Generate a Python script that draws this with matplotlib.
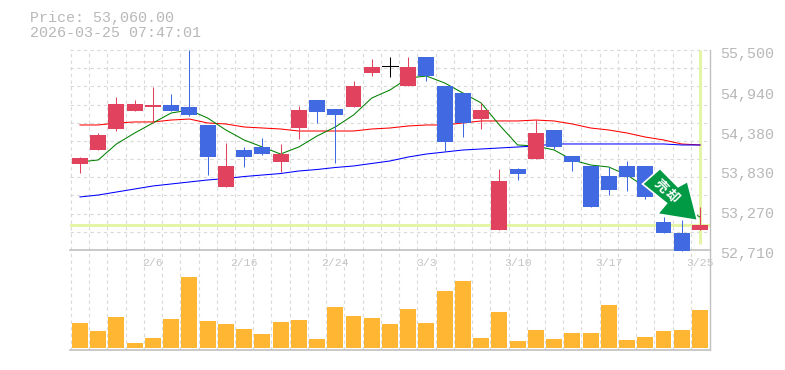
import numpy as np
import matplotlib
matplotlib.use("Agg")
import matplotlib.pyplot as plt
from matplotlib.patches import Polygon
from matplotlib.transforms import ScaledTranslation, Affine2D

W, H = 785, 370
TXT = "#b8b8b8"
MONO = "Liberation Mono"

opens = [53914,54105,54398,54649,54705,54733,54705,54454,53589,54105,54147,53938,54412,54802,54677,54705,55179,55273,54998,55402,54998,54900,54537,52989,53840,53979,54384,54021,53882,53742,53882,53882,53101,52947,52989]
closes = [53993,54314,54747,54747,54733,54649,54593,54007,53882,54007,54049,54049,54663,54635,54593,54998,55263,55273,55263,55137,54217,54482,54663,53673,53770,54342,54147,53938,53310,53547,53728,53449,52947,52695,53060]
highs = [54007,54342,54844,54802,54984,54886,55500,54454,54203,54147,54272,54189,54719,54802,54677,55068,55374,55402,55402,55402,54998,54900,54761,53840,53854,54523,54384,54021,53882,53868,53952,53882,53170,53128,53310]
lows = [53788,54105,54370,54649,54482,54649,54579,53756,53589,53868,54035,53798,54258,54482,53924,54705,55137,55123,54998,55068,54091,54286,54398,52989,53687,53979,54119,53812,53310,53477,53533,53421,52947,52695,52989]
ma_green = [53938,53966,54189,54342,54482,54621,54663,54551,54384,54245,54147,54049,54147,54300,54426,54593,54830,54942,55109,55137,55040,54900,54761,54454,54175,54161,54105,53966,53896,53868,53756,53589,53449,53310,53170]
ma_red = [54454,54454,54482,54496,54496,54523,54537,54482,54468,54426,54412,54398,54370,54370,54370,54370,54398,54412,54440,54454,54454,54482,54510,54510,54510,54523,54510,54468,54412,54384,54342,54286,54245,54189,54175]
ma_blue = [53450,53477,53519,53561,53603,53631,53659,53687,53707,53735,53756,53777,53812,53833,53861,53882,53917,53952,54007,54049,54077,54105,54119,54133,54147,54161,54189,54189,54189,54189,54189,54189,54189,54175,54175]
volumes = [25,17,31,5,10,29,71,27,24,19,14,26,28,9,41,32,30,24,39,25,57,67,10,36,7,18,9,15,15,43,8,11,17,18,38]
date_idx = [4,9,14,19,24,29,34]
date_labels = ["2/6","2/16","2/24","3/3","3/10","3/17","3/25"]
price_ticks = [52710,53270,53830,54380,54940,55500]
price_labels = ["52,710","53,270","53,830","54,380","54,940","55,500"]
last_price = 53060
title_lines = ["Price: 53,060.00", "2026-03-25 07:47:01"]

RED, BLUE = "#E1435F", "#4169E1"
GRID = "#d9d9d9"
EDGE = "#c0c0c0"
HILITE = "#e4f5a8"
ORANGE = "#FFB733"
n = len(opens)
x = np.arange(n)

def rect(l, t, r, b):
    return [l / W, 1 - b / H, (r - l) / W, (b - t) / H]

fig = plt.figure(figsize=(W / 100, H / 100), dpi=100, facecolor="white")
ax = fig.add_axes(rect(70, 50, 710, 250))
av = fig.add_axes(rect(70, 250, 710, 350))

xlim = (-0.548, 34.55)
grid_x = x - 0.5
for a in (ax, av):
    a.set_facecolor("white")
    a.set_xlim(*xlim)
    for s in a.spines.values():
        s.set_visible(False)
    for g in grid_x:
        a.axvline(g, color=GRID, lw=0.8, ls=(0, (3, 3)), zorder=0, clip_on=False)
    a.spines["right"].set_visible(True)
    a.spines["right"].set_color(EDGE)
    a.spines["right"].set_linewidth(1.0)

ax.set_ylim(52710, 55500)
for g in np.linspace(52710, 55500, 12)[1:]:
    ax.axhline(g, color=GRID, lw=0.8, ls=(0, (3, 3)), zorder=0, clip_on=False)
ax.spines["bottom"].set_visible(True)
ax.spines["bottom"].set_color(EDGE)
ax.spines["bottom"].set_linewidth(1.2)

ax.axhline(last_price, color=HILITE, lw=2.2, zorder=1)
ax.plot([x[-1], x[-1]], [52790, 55500], color=HILITE, lw=2.2, zorder=1, solid_capstyle="butt")

ax.plot(x, ma_red, color="#ff0000", lw=0.75, zorder=2)
ax.plot(x, ma_blue, color="#0000ff", lw=0.75, zorder=2)
ax.plot(x, ma_green, color="#008000", lw=0.75, zorder=2)

for i in x:
    o, c, h, l = opens[i], closes[i], highs[i], lows[i]
    if o == c:
        col = "black"
        ax.plot([i - 0.44, i + 0.44], [c, c], color=col, lw=0.75, zorder=3)
    else:
        col = RED if c > o else BLUE
        ax.bar(i, abs(c - o), bottom=min(o, c), width=0.875, color=col, zorder=3, clip_on=False)
    ax.plot([i, i], [l, h], color=col, lw=0.75, zorder=3, solid_capstyle="butt", clip_on=False)

ax.yaxis.tick_right()
ax.set_yticks(price_ticks, price_labels)
ax.tick_params(axis="y", length=0, pad=7, labelsize=10.8, labelcolor=TXT)
off = ScaledTranslation(0, -3 / 100, fig.dpi_scale_trans)
for t in ax.get_yticklabels():
    t.set_fontfamily(MONO)
    t.set_transform(t.get_transform() + off)
ax.set_xticks(date_idx, date_labels)
ax.tick_params(axis="x", length=0, pad=5.5, labelsize=8.2, labelcolor="#c4c4c4")
for t in ax.get_xticklabels():
    t.set_fontfamily(MONO)
    t.set_zorder(20)
ax.set_zorder(3)
av.set_zorder(2)
av.patch.set_alpha(0)
ax.set_xlim(*xlim)

av.bar(x, volumes, width=0.875, color=ORANGE, zorder=3)
av.set_ylim(-2, 98)
av.set_yticks([])
av.set_xticks([])
av.spines["bottom"].set_visible(True)
av.spines["bottom"].set_color(EDGE)
av.spines["bottom"].set_linewidth(1.2)

for txt, yy in zip(title_lines, (18, 33)):
    fig.text(30 / W, 1 - yy / H, txt, family=MONO, fontsize=10.8, color=TXT, va="center", ha="left")

# sell badge, placed in figure pixels
to_fig = Affine2D().scale(1 / W, -1 / H).translate(0, 1) + fig.transFigure
arrow = [(660, 168.5), (642.5, 184), (666.5, 203.3), (657.5, 214), (697.5, 220.5), (687.5, 181.5), (678, 186.7)]
fig.add_artist(Polygon(arrow, closed=True, transform=to_fig, facecolor="#009944",
                       edgecolor="white", lw=1.2, joinstyle="miter", zorder=10))
for s, (px, py) in zip("売却", [(661, 186), (672, 196)]):
    fig.text(px / W, 1 - py / H, s, family="Noto Sans CJK JP", weight="bold", fontsize=9.5, color="white",
             rotation=-45, ha="center", va="center", rotation_mode="anchor", zorder=11)

fig.savefig("out.png", dpi=100, facecolor="white")
